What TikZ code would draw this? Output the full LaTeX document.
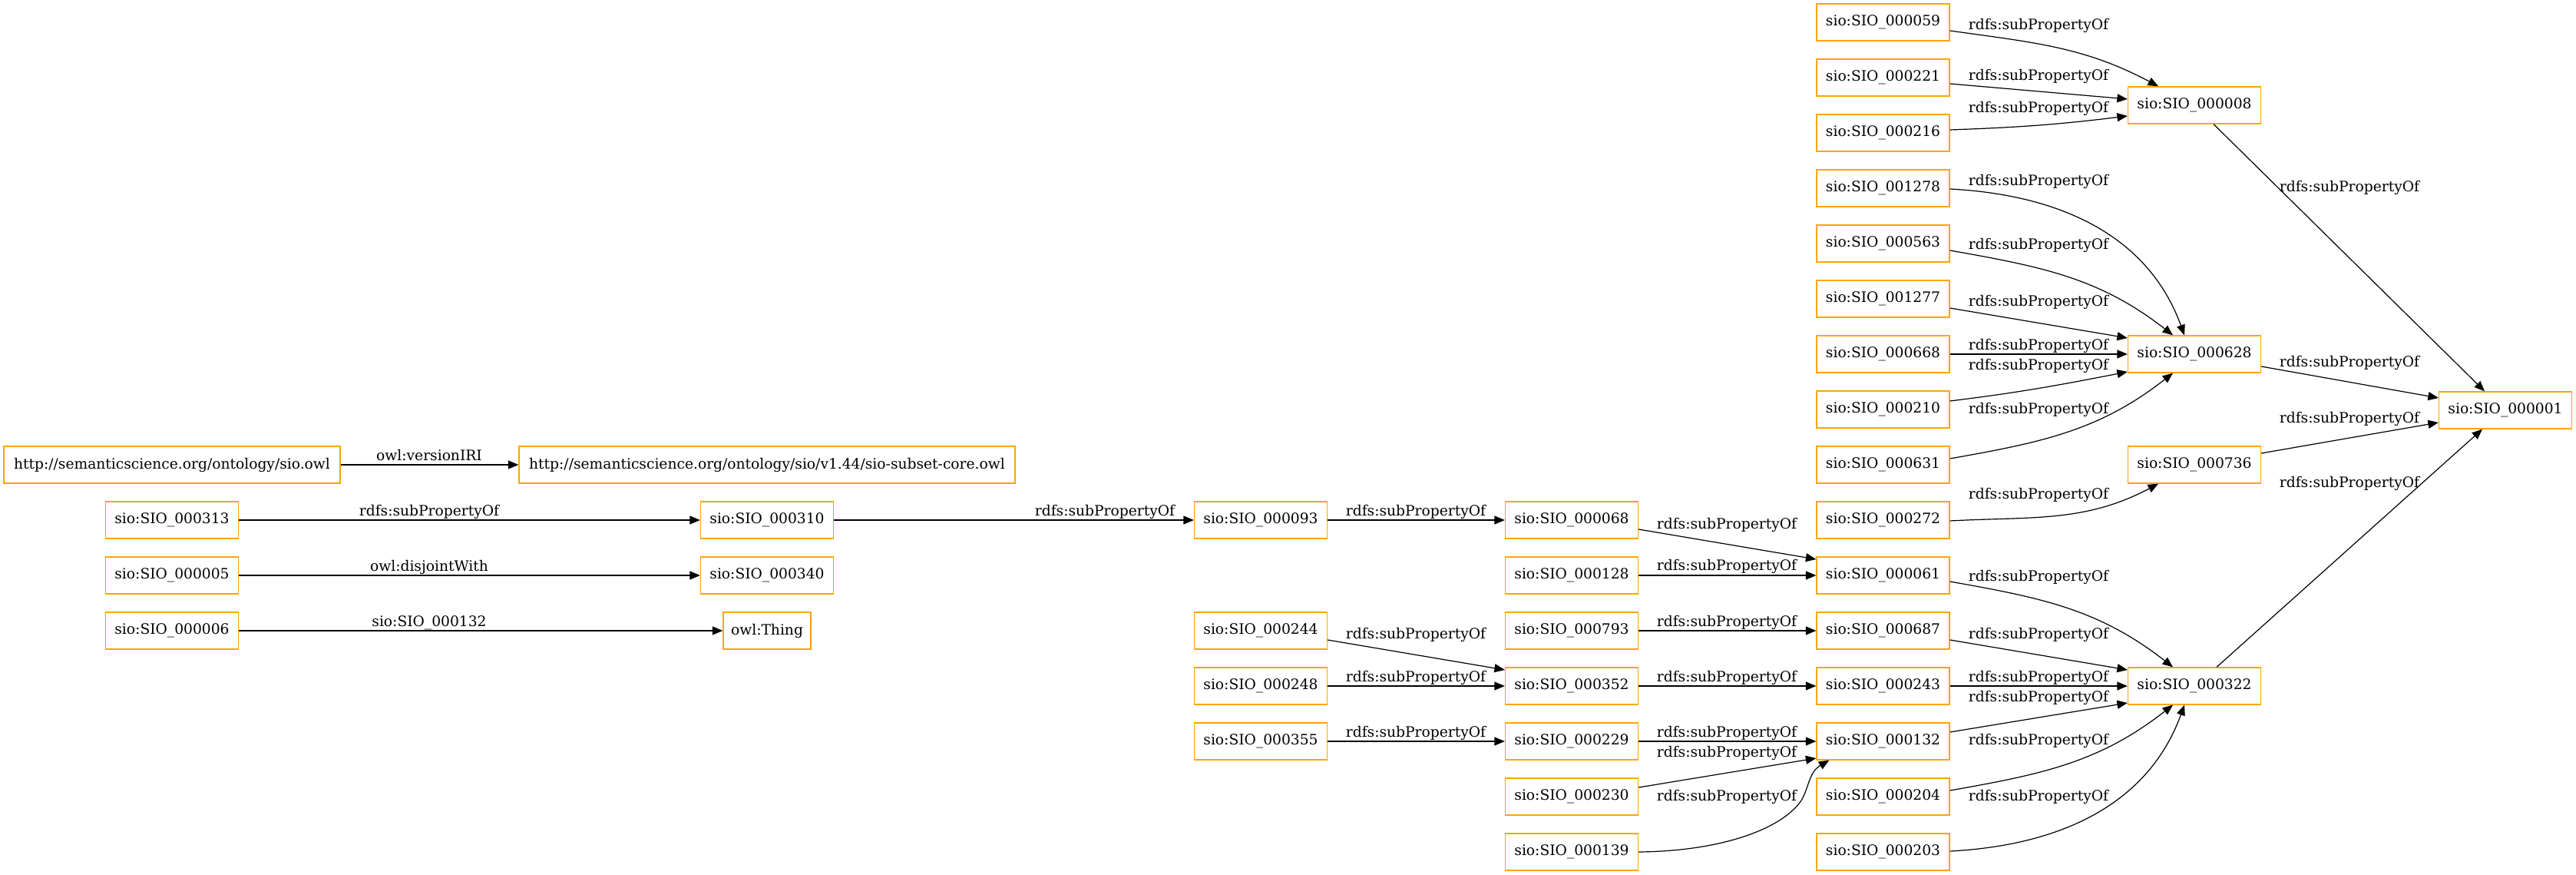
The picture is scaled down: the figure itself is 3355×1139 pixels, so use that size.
\documentclass[tikz,border=0pt]{standalone}
\usepackage{fontspec}
\usetikzlibrary{arrows.meta}
\newfontfamily\dvserif{DejaVu Serif}
\newcommand\gvfont{\dvserif\fontsize{18.67}{22}\selectfont}
\definecolor{boxorange}{HTML}{FFA500}
\tikzset{
  box/.style={draw=boxorange, line width=1.3pt, fill=white, minimum width=173pt,
    minimum height=48pt, inner sep=0pt, font=\gvfont},
  lbl/.style={inner sep=0pt, anchor=base, font=\gvfont},
  link/.style={draw=black, line width=1.2pt, -{Triangle[length=13.5pt,width=11pt]}},
}
\begin{document}
\begin{tikzpicture}[x=1pt,y=-1pt]
\useasboundingbox (0,0) rectangle (3355,1139);

% column A
\node[box, minimum width=438pt] (sioowl) at (224,605) {http://semanticscience.org/ontology/sio.owl};
\node[box] (n313) at (224,677) {sio:SIO\_000313};
\node[box] (n005) at (224,749) {sio:SIO\_000005};
\node[box] (n006) at (224,821) {sio:SIO\_000006};
% column B
\node[box, minimum width=646pt] (v144) at (999,605) {http://semanticscience.org/ontology/sio/v1.44/sio-subset-core.owl};
\node[box] (n310) at (999,677) {sio:SIO\_000310};
\node[box] (n340) at (999,749) {sio:SIO\_000340};
\node[box, minimum width=114pt] (thing) at (999,821) {owl:Thing};
% column C
\node[box] (n093) at (1642,677) {sio:SIO\_000093};
\node[box] (n244) at (1642,821) {sio:SIO\_000244};
\node[box] (n248) at (1642,893) {sio:SIO\_000248};
\node[box] (n355) at (1642,965) {sio:SIO\_000355};
% column D
\node[box] (n068) at (2047,677) {sio:SIO\_000068};
\node[box] (n128) at (2047,749) {sio:SIO\_000128};
\node[box] (n793) at (2047,821) {sio:SIO\_000793};
\node[box] (n352) at (2047,893) {sio:SIO\_000352};
\node[box] (n229) at (2047,965) {sio:SIO\_000229};
\node[box] (n230) at (2047,1037) {sio:SIO\_000230};
\node[box] (n139) at (2047,1109) {sio:SIO\_000139};
% column E
\node[box] (n059) at (2452.5,29) {sio:SIO\_000059};
\node[box] (n221) at (2452.5,101) {sio:SIO\_000221};
\node[box] (n216) at (2452.5,173) {sio:SIO\_000216};
\node[box] (n1278) at (2452.5,245) {sio:SIO\_001278};
\node[box] (n563) at (2452.5,317) {sio:SIO\_000563};
\node[box] (n1277) at (2452.5,389) {sio:SIO\_001277};
\node[box] (n668) at (2452.5,461) {sio:SIO\_000668};
\node[box] (n210) at (2452.5,533) {sio:SIO\_000210};
\node[box] (n631) at (2452.5,605) {sio:SIO\_000631};
\node[box] (n272) at (2452.5,677) {sio:SIO\_000272};
\node[box] (n061) at (2452.5,749) {sio:SIO\_000061};
\node[box] (n687) at (2452.5,821) {sio:SIO\_000687};
\node[box] (n243) at (2452.5,893) {sio:SIO\_000243};
\node[box] (n132) at (2452.5,965) {sio:SIO\_000132};
\node[box] (n204) at (2452.5,1037) {sio:SIO\_000204};
\node[box] (n203) at (2452.5,1109) {sio:SIO\_000203};
% column F
\node[box] (n008) at (2858,137) {sio:SIO\_000008};
\node[box] (n628) at (2858,461) {sio:SIO\_000628};
\node[box] (n736) at (2858,605) {sio:SIO\_000736};
\node[box] (n322) at (2858,893) {sio:SIO\_000322};
% column G
\node[box] (n001) at (3263,534) {sio:SIO\_000001};

% A -> B
\draw[link] (sioowl.east) -- (v144.west);
\draw[link] (n313.east) -- (n310.west);
\draw[link] (n005.east) -- (n340.west);
\draw[link] (n006.east) -- (thing.west);
\node[lbl] (lversion) at (559,599) {owl:versionIRI};
\node[lbl] (l313) at (559,671) {rdfs:subPropertyOf};
\node[lbl] (ldisj) at (559,743) {owl:disjointWith};
\node[lbl] (l006) at (559,815) {sio:SIO\_000132};

% B -> C
\draw[link] (n310.east) -- (n093.west);
\node[lbl] (l310) at (1439,671) {rdfs:subPropertyOf};

% C -> D
\draw[link] (n093.east) -- (n068.west);
\draw[link] ([yshift=-12pt]n244.east) -- ([yshift=21pt]n352.west);
\draw[link] (n248.east) -- (n352.west);
\draw[link] (n355.east) -- (n229.west);
\node[lbl] (l093) at (1844,671) {rdfs:subPropertyOf};
\node[lbl] (l244) at (1844,831) {rdfs:subPropertyOf};
\node[lbl] (l248) at (1844,887) {rdfs:subPropertyOf};
\node[lbl] (l355) at (1844,959) {rdfs:subPropertyOf};

% D -> E
\draw[link] ([yshift=-12pt]n068.east) -- ([yshift=21pt]n061.west);
\draw[link] (n128.east) -- (n061.west);
\draw[link] (n793.east) -- (n687.west);
\draw[link] (n352.east) -- (n243.west);
\draw[link] (n229.east) -- (n132.west);
\draw[link] ([yshift=12pt]n230.east) -- ([yshift=-22pt]n132.west);
\draw[link] (n139.east) .. controls (2240,1108) and (2320,1080) .. (2346,1042)
  .. controls (2356,1025) and (2356,1005) .. ([xshift=17pt]n132.south west);
\node[lbl] (l068) at (2249,688) {rdfs:subPropertyOf};
\node[lbl] (l128) at (2249,742) {rdfs:subPropertyOf};
\node[lbl] (l793) at (2249,815) {rdfs:subPropertyOf};
\node[lbl] (l352) at (2249,887) {rdfs:subPropertyOf};
\node[lbl] (l229) at (2249,959) {rdfs:subPropertyOf};
\node[lbl] (l230) at (2249,985) {rdfs:subPropertyOf};
\node[lbl] (l139) at (2249,1042) {rdfs:subPropertyOf};

% E -> F
\draw[link] ([yshift=-11pt]n059.east) to[out=-8,in=152] ([xshift=-47pt]n008.north);
\draw[link] ([yshift=-8pt]n221.east) -- ([yshift=8pt]n008.west);
\draw[link] ([yshift=4pt]n216.east) to[out=2,in=-173] ([yshift=-14pt]n008.west);
\draw[link] ([yshift=-1pt]n1278.east) to[out=-3,in=110] ([xshift=-13pt]n628.north);
\draw[link] ([yshift=-9pt]n563.east) to[out=-10,in=142] ([xshift=-28pt]n628.north);
\draw[link] ([yshift=-12pt]n1277.east) -- ([yshift=21pt]n628.west);
\draw[link] (n668.east) -- (n628.west);
\draw[link] ([yshift=11pt]n210.east) to[out=7,in=-169] ([yshift=-23pt]n628.west);
\draw[link] ([yshift=8pt]n631.east) to[out=10,in=-142] ([xshift=-28pt]n628.south);
\draw[link] ([yshift=-1pt]n272.east) to[out=3,in=-152] ([xshift=-47pt]n736.south);
\draw[link] ([yshift=-8pt]n061.east) to[out=-10,in=142] ([xshift=-28pt]n322.north);
\draw[link] ([yshift=-12pt]n687.east) -- ([yshift=21pt]n322.west);
\draw[link] (n243.east) -- (n322.west);
\draw[link] ([yshift=12pt]n132.east) -- ([yshift=-22pt]n322.west);
\draw[link] ([yshift=8pt]n204.east) to[out=10,in=-142] ([xshift=-28pt]n322.south);
\draw[link] ([yshift=1pt]n203.east) to[out=3,in=-110] ([xshift=-13pt]n322.south);
\node[lbl] (l059) at (2655,39) {rdfs:subPropertyOf};
\node[lbl] (l221) at (2655,105) {rdfs:subPropertyOf};
\node[lbl] (l216) at (2655,147) {rdfs:subPropertyOf};
\node[lbl] (l1278) at (2655,242) {rdfs:subPropertyOf};
\node[lbl] (l563) at (2655,325) {rdfs:subPropertyOf};
\node[lbl] (l1277) at (2655,399) {rdfs:subPropertyOf};
\node[lbl] (l668) at (2655,455) {rdfs:subPropertyOf};
\node[lbl] (l210) at (2655,481) {rdfs:subPropertyOf};
\node[lbl] (l631) at (2655,538) {rdfs:subPropertyOf};
\node[lbl] (l272) at (2655,649) {rdfs:subPropertyOf};
\node[lbl] (l061) at (2655,756) {rdfs:subPropertyOf};
\node[lbl] (l687) at (2655,831) {rdfs:subPropertyOf};
\node[lbl] (l243) at (2655,887) {rdfs:subPropertyOf};
\node[lbl] (l132) at (2655,913) {rdfs:subPropertyOf};
\node[lbl] (l204) at (2655,969) {rdfs:subPropertyOf};
\node[lbl] (l203) at (2655,1042) {rdfs:subPropertyOf};

% F -> G
\draw[link] ([xshift=25pt]n008.south) -- ([xshift=-27pt]n001.north);
\draw[link] ([yshift=-16pt]n628.east) -- ([yshift=16pt]n001.west);
\draw[link] ([yshift=15pt]n736.east) -- ([yshift=-16pt]n001.west);
\draw[link] ([xshift=29pt]n322.north) -- ([xshift=-30pt]n001.south);
\node[lbl] (l008) at (3060,250) {rdfs:subPropertyOf};
\node[lbl] (l628) at (3060,477) {rdfs:subPropertyOf};
\node[lbl] (l736) at (3060,550) {rdfs:subPropertyOf};
\node[lbl] (l322) at (3060,634) {rdfs:subPropertyOf};
\end{tikzpicture}
\end{document}
